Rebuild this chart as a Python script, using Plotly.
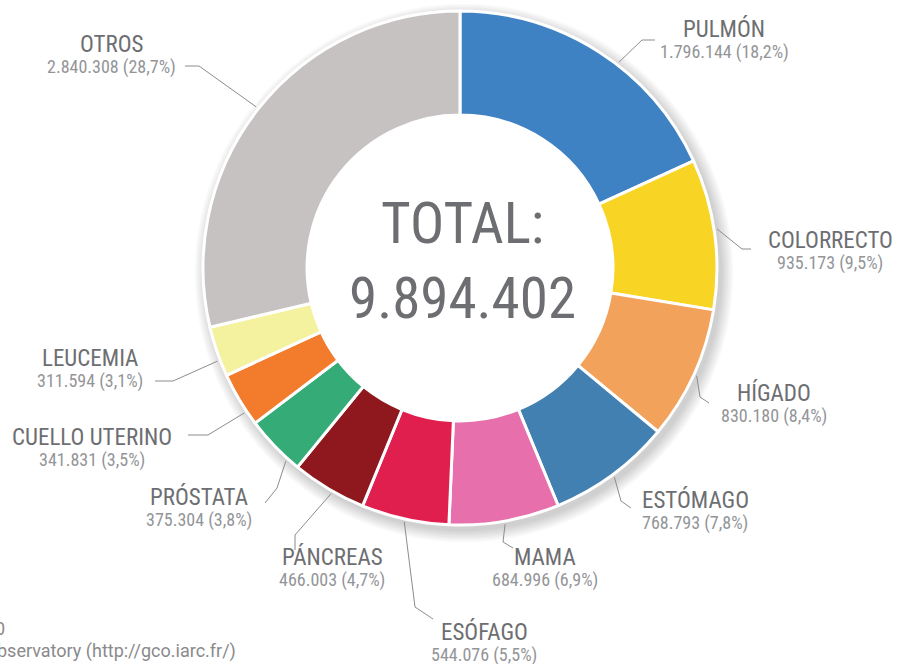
import math
import plotly.graph_objects as go

# ---- data ----
categories = ["PULMÓN", "COLORRECTO", "HÍGADO", "ESTÓMAGO", "MAMA", "ESÓFAGO",
              "PÁNCREAS", "PRÓSTATA", "CUELLO UTERINO", "LEUCEMIA", "OTROS"]
cases = [1796144, 935173, 830180, 768793, 684996, 544076,
         466003, 375304, 341831, 311594, 2840308]
total_label = "TOTAL:"
total_value = "9.894.402"
colors = ["#3f82c3", "#f8d524", "#f2a25b", "#4380b2", "#e76fac", "#e11f4e",
          "#8e181e", "#35ab77", "#f27b2c", "#f4f19f", "#c7c2c2"]

# ---- layout helpers ----
W, H = 897, 664
CX, CY, R = 460, 268, 257
HOLE = 0.595


def px(x):
    return x / W


def py(y):
    return 1 - y / H


def fmt_num(v):
    return f"{v:,}".replace(",", ".")


total = sum(cases)

# label placement: (text centre x, name y, value y, leader elbow, leader end, angle tweak)
label_pos = {
    "PULMÓN": (724, 29, 52, (642, 40), (655, 40), 5),
    "COLORRECTO": (830, 240, 263, (742, 249), (751, 249), -1),
    "HÍGADO": (774, 393, 416, (700, 397), (709, 403), 0),
    "ESTÓMAGO": (695, 500, 523, (621, 501), (631, 508), 0),
    "MAMA": (545, 557, 580, (503, 542), (513, 548), 0),
    "ESÓFAGO": (484, 632, 655, (415, 607), (433, 619), 0),
    "PÁNCREAS": (332, 557, 580, (295, 535), (295, 550), -1),
    "PRÓSTATA": (199, 497, 520, (277, 488), (265, 503), -4),
    "CUELLO UTERINO": (92, 437, 460, (208, 435), (188, 435), -3),
    "LEUCEMIA": (90, 358, 381, (173, 381), (155, 381), -2),
    "OTROS": (111, 44, 67, (199, 66), (185, 66), 0),
}

COND = "Roboto Condensed, Liberation Sans Narrow, sans-serif"

fig = go.Figure()
fig.add_trace(go.Pie(
    labels=categories,
    values=cases,
    sort=False,
    direction="clockwise",
    rotation=0,
    hole=HOLE,
    textinfo="none",
    marker=dict(colors=colors, line=dict(color="white", width=3)),
    domain=dict(x=[px(CX - R), px(CX + R)], y=[py(CY + R), py(CY - R)]),
    showlegend=False,
))

shapes = []
# soft drop shadow behind the donut
for i in range(8):
    r = 258 + i * 1.6
    sx, sy = CX + 4, CY + 5
    shapes.append(dict(type="circle", xref="paper", yref="paper", layer="below",
                       x0=px(sx - r), x1=px(sx + r), y0=py(sy + r), y1=py(sy - r),
                       fillcolor="rgba(0,0,0,0.024)", line=dict(width=0)))
hr = R * HOLE + 2
shapes.append(dict(type="circle", xref="paper", yref="paper", layer="below",
                   x0=px(CX - hr), x1=px(CX + hr), y0=py(CY + hr), y1=py(CY - hr),
                   fillcolor="white", line=dict(width=0)))

annotations = []
cum = 0
for cat, v in zip(categories, cases):
    mid = (cum + v / 2) / total * 360
    cum += v
    tx, ny, vy, elbow, end, tweak = label_pos[cat]
    a = math.radians(mid + tweak)
    r0 = 260
    x0 = CX + r0 * math.sin(a)
    y0 = CY - r0 * math.cos(a)
    path = (f"M {px(x0)},{py(y0)} L {px(elbow[0])},{py(elbow[1])} "
            f"L {px(end[0])},{py(end[1])}")
    shapes.append(dict(type="path", xref="paper", yref="paper", path=path,
                       line=dict(color="#8c8c8e", width=1)))
    pct = f"{v / total * 100:.1f}".replace(".", ",")
    annotations.append(dict(x=px(tx), y=py(ny), xref="paper", yref="paper",
                            text=cat, showarrow=False, xanchor="center", yanchor="middle",
                            borderpad=0,
                            font=dict(family=COND, size=23, color="#6d6e71")))
    annotations.append(dict(x=px(tx), y=py(vy), xref="paper", yref="paper",
                            text=f"{fmt_num(v)} ({pct}%)", showarrow=False,
                            xanchor="center", yanchor="middle", borderpad=0,
                            font=dict(family=COND, size=18, color="#939598")))

annotations.append(dict(x=px(CX + 2), y=py(224), xref="paper", yref="paper",
                        text=total_label, showarrow=False, xanchor="center", yanchor="middle",
                        font=dict(family=COND, size=57, color="#6d6e71")))
annotations.append(dict(x=px(CX + 2), y=py(298), xref="paper", yref="paper",
                        text=total_value, showarrow=False, xanchor="center", yanchor="middle",
                        font=dict(family=COND, size=57, color="#6d6e71")))

# source note (partially cut at the left edge, as in the original)
annotations.append(dict(x=px(7), y=py(628), xref="paper", yref="paper",
                        text="Fuente: GLOBOCAN 2020", showarrow=False,
                        xanchor="right", yanchor="middle",
                        font=dict(family="Roboto, Liberation Sans, sans-serif", size=18, color="#8a8a8c")))
annotations.append(dict(x=px(238), y=py(651), xref="paper", yref="paper",
                        text="Global Cancer Observatory (http://gco.iarc.fr/)", showarrow=False,
                        xanchor="right", yanchor="middle",
                        font=dict(family="Roboto, Liberation Sans, sans-serif", size=18, color="#8a8a8c")))

fig.update_layout(
    width=W, height=H,
    margin=dict(l=0, r=0, t=0, b=0),
    paper_bgcolor="white",
    plot_bgcolor="white",
    shapes=shapes,
    annotations=annotations,
)

fig.write_html("out.html", config={"displayModeBar": False},
               post_script="document.body.style.margin='0';")
